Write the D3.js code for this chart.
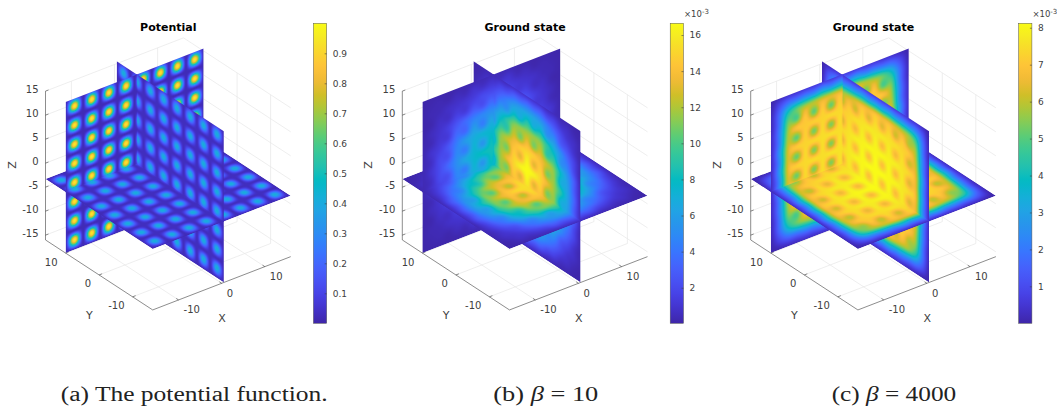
<!DOCTYPE html>
<meta charset="utf-8">
<style>
body { margin: 0; background: #fff; }
text { font-family: "DejaVu Sans", sans-serif; fill: #404040; }
.grid { stroke: #e6e6e6; stroke-width: .7; }
.axis3d { stroke: #404040; stroke-width: .6; }
.caption { font-family: "Liberation Serif", serif; font-size: 20px; fill: #222; }
</style>
<svg width="1057" height="406"></svg>
<script src="https://d3js.org/d3.v7.min.js"></script>
<script>

// tick labels
const xTicks = [-10, 0, 10];
const yTicks = [-10, 0, 10];
const zTicks = [-15, -10, -5, 0, 5, 10, 15];
const barTicksA = [0.1, 0.2, 0.3, 0.4, 0.5, 0.6, 0.7, 0.8, 0.9];
const barTicksB = [2, 4, 6, 8, 10, 12, 14, 16];
const barTicksC = [1, 2, 3, 4, 5, 6, 7, 8];

const parulaStops = ["#3e26a8", "#4332cb", "#4741e5", "#4852f4", "#4563fd", "#3875fe", "#2e87f7", "#2796eb",
  "#20a5e3", "#12b1d6", "#02bac3", "#24c1ae", "#37c897", "#57cc7a", "#81cc59", "#abc739", "#d1bf27", "#f0ba36",
  "#fec338", "#fad62d", "#f5e924", "#f9fb15"];

// slice planes
const sliceX = 0.5, sliceY = 10, sliceZ = -3.3;

// values per slice: one quadrant, rows = |v| and columns = |u| at 0,2,4..16
const potentialX = [
  [.03,.03,.03,.03,.03,.03,.03,.03,.02],
  [.03,.42,.03,.42,.03,.42,.03,.42,.02],
  [.03,.03,.03,.03,.03,.03,.03,.03,.02],
  [.03,.42,.03,.42,.03,.42,.03,.42,.02],
  [.03,.03,.03,.03,.03,.03,.03,.03,.02],
  [.03,.42,.03,.42,.03,.42,.03,.42,.02],
  [.03,.03,.03,.03,.03,.03,.03,.03,.02],
  [.03,.42,.03,.42,.03,.42,.03,.42,.02],
  [.02,.02,.02,.02,.02,.02,.02,.02,.02]];
const potentialY = [
  [.02,.02,.02,.02,.02,.02,.02,.02,.02],
  [.02,.97,.02,.97,.02,.97,.02,.97,.02],
  [.02,.02,.02,.02,.02,.02,.02,.02,.02],
  [.02,.97,.02,.97,.02,.97,.02,.97,.02],
  [.02,.02,.02,.02,.02,.02,.02,.02,.02],
  [.02,.97,.02,.97,.02,.97,.02,.97,.02],
  [.02,.02,.02,.02,.02,.02,.02,.02,.02],
  [.02,.97,.02,.97,.02,.97,.02,.97,.02],
  [.02,.02,.02,.02,.02,.02,.02,.02,.02]];
const potentialZ = [
  [.03,.03,.03,.03,.03,.03,.03,.03,.02],
  [.03,.42,.03,.42,.03,.42,.03,.42,.02],
  [.03,.03,.03,.03,.03,.03,.03,.03,.02],
  [.03,.42,.03,.42,.03,.42,.03,.42,.02],
  [.03,.03,.03,.03,.03,.03,.03,.03,.02],
  [.03,.42,.03,.42,.03,.42,.03,.42,.02],
  [.03,.03,.03,.03,.03,.03,.03,.03,.02],
  [.03,.42,.03,.42,.03,.42,.03,.42,.02],
  [.02,.02,.02,.02,.02,.02,.02,.02,.02]];

const beta10X = [
  [16.6,16.2,15,13.4,11.6,9,6.4,3.4,.5],
  [16.2,13.2,14.6,11,11.4,7.2,6.2,3,.5],
  [15,14.6,13.8,12.4,11,7.9,5.7,3,.4],
  [13.4,11,12.4,9.2,9,5.5,4.5,2,.3],
  [11.6,11.4,11,9,7.2,5.3,3.4,1.7,.3],
  [9,7.2,7.9,5.5,5.3,3,2.1,.9,.2],
  [6.4,6.2,5.7,4.5,3.4,2.1,1.1,.7,.2],
  [3.4,3,3,2,1.7,.9,.7,.3,.1],
  [.5,.5,.4,.3,.3,.2,.2,.1,.05]];
const beta10Y = [
  [8.3,8.1,7.5,6.5,5.2,3.5,2.1,1,.3],
  [8.1,5.5,7.3,4.4,4.8,2.3,2,.7,.3],
  [7.5,7.3,6.8,5.8,4.4,2.6,1.5,.9,.2],
  [6.5,4.4,5.8,3.4,3.5,1.4,1.1,.4,.2],
  [5.2,4.8,4.4,3.5,2.6,1.5,.9,.5,.1],
  [3.5,2.3,2.6,1.4,1.5,.7,.7,.2,.1],
  [2.1,2,1.5,1.1,.9,.7,.4,.3,.1],
  [1,.7,.9,.4,.5,.2,.3,.2,.1],
  [.3,.3,.2,.2,.1,.1,.1,.1,.05]];
const beta10Z = [
  [15.4,15.1,14.2,12.8,11,8.2,5.8,3,.5],
  [15.1,12.2,13.8,10.4,10.8,6.4,5.5,2.6,.5],
  [14.2,13.8,13,11.6,9.6,7,4.8,2.7,.4],
  [12.8,10.4,11.6,8.8,8.1,5,4,1.8,.3],
  [11,10.8,9.6,8.1,6.4,4.5,2.9,1.3,.3],
  [8.2,6.4,7,5,4.5,2.6,1.8,.8,.2],
  [5.8,5.5,4.8,4,2.9,1.8,1,.7,.2],
  [3,2.6,2.7,1.8,1.3,.8,.7,.3,.1],
  [.5,.5,.4,.3,.3,.2,.2,.1,.05]];

const beta4000X = [
  [8.1,8.1,8,7.9,7.7,7.4,6.7,3,.3],
  [8.1,6.9,8,6.8,7.7,6.4,6.5,2.8,.3],
  [8,8,7.9,7.8,7.6,7.3,6.5,3,.3],
  [7.9,6.8,7.8,6.7,7.5,6.2,6.2,2.6,.3],
  [7.7,7.7,7.6,7.5,7.3,7,5.9,2.5,.3],
  [7.4,6.4,7.3,6.2,7,5.9,5.5,2.2,.2],
  [6.7,6.5,6.5,6.2,5.9,5.5,4.4,2,.2],
  [3,2.8,3,2.6,2.5,2.2,2,1.2,.1],
  [.3,.3,.3,.3,.3,.2,.2,.1,.05]];
const beta4000Y = [
  [7.6,7.6,7.5,7.5,7.4,7.2,6.5,2.9,.3],
  [7.6,5.4,7.5,5.4,7.4,5.2,6.3,2.5,.3],
  [7.5,7.5,7.5,7.4,7.3,7.1,6.3,2.8,.3],
  [7.5,5.4,7.4,5.3,7.2,5.1,5.9,2.3,.3],
  [7.4,7.4,7.3,7.2,7.1,6.9,5.7,2.3,.3],
  [7.2,5.2,7.1,5.1,6.9,4.9,5.1,2,.2],
  [6.5,6.3,6.3,5.9,5.7,5.1,4,1.8,.2],
  [2.9,2.5,2.8,2.3,2.3,2,1.8,1,.1],
  [.3,.3,.3,.3,.3,.2,.2,.1,.05]];
const beta4000Z = [
  [8.1,8,8,7.8,7.6,7.3,6.6,3,.3],
  [8,6.7,7.9,6.6,7.6,6.2,6.4,2.7,.3],
  [8,7.9,7.8,7.7,7.5,7.2,6.4,3,.3],
  [7.8,6.6,7.7,6.5,7.4,6,6.1,2.5,.3],
  [7.6,7.6,7.5,7.4,7.2,6.9,5.8,2.4,.3],
  [7.3,6.2,7.2,6,6.9,5.7,5.3,2.1,.2],
  [6.6,6.4,6.4,6.1,5.8,5.3,4.3,1.9,.2],
  [3,2.7,3,2.5,2.4,2.1,1.9,1.1,.1],
  [.3,.3,.3,.3,.3,.2,.2,.1,.05]];

const panels = [
  {dx: 0, title: "Potential", planes: [potentialX, potentialY, potentialZ], domain: [0, 1], ticks: barTicksA},
  {dx: 356.8, title: "Ground state", planes: [beta10X, beta10Y, beta10Z], domain: [0.03, 16.65], ticks: barTicksB, exponent: true},
  {dx: 705.2, title: "Ground state", planes: [beta4000X, beta4000Y, beta4000Z], domain: [0, 8.12], ticks: barTicksC, exponent: true}
];

const svg = d3.select("svg");

// oblique projection, all from the floor corners of the box
const xH = d3.scaleLinear([-16, 16], [-69, 69]),
      xV = d3.scaleLinear([-16, 16], [26.65, -26.65]),
      yH = d3.scaleLinear([-16, 16], [53.6, -53.6]),
      yV = d3.scaleLinear([-16, 16], [35, -35]),
      zV = d3.scaleLinear([-16, 15], [0, -148.8]);
const project = (x, y, z) => [168.1 + xH(x) + yH(y), 248.3 + xV(x) + yV(y) + zV(z)];

const zTop = 15.5;
const colorRamp = d3.piecewise(d3.interpolateRgb, parulaStops);

function catmull(a, b, c, d, t) {
  return 0.5 * (2*b + (c-a)*t + (2*a-5*b+4*c-d)*t*t + (3*b-a-3*c+d)*t*t*t);
}

// quadrant -> 17x17 -> smoothed png, the slices are shaded interp in the original
function planeImage(quadrant, color) {
  const idx = [8,7,6,5,4,3,2,1,0,1,2,3,4,5,6,7,8];
  const full = idx.map(i => idx.map(j => quadrant[i][j]));
  const k = 10, n = 16 * k + 1;
  const canvas = document.createElement("canvas");
  canvas.width = n; canvas.height = n;
  const ctx = canvas.getContext("2d");
  const at = (r, c) => full[Math.max(0, Math.min(16, r))][Math.max(0, Math.min(16, c))];
  for (let py = 0; py < n; py++) {
    const r = Math.min(15, Math.floor(py / k)), tr = py / k - r;
    for (let px = 0; px < n; px++) {
      const c = Math.min(15, Math.floor(px / k)), tc = px / k - c;
      const row = [-1, 0, 1, 2].map(o => catmull(at(r+o, c-1), at(r+o, c), at(r+o, c+1), at(r+o, c+2), tc));
      ctx.fillStyle = color(catmull(row[0], row[1], row[2], row[3], tr));
      ctx.fillRect(px, py, 1, 1);
    }
  }
  return canvas.toDataURL();
}

panels.forEach(function(panel, pi) {
  const g = svg.append("g").attr("transform", "translate(" + panel.dx + ",0)");
  const color = d3.scaleSequential(colorRamp).domain(panel.domain).clamp(true);

  const line = (a, b, cls) => g.append("line").attr("class", cls)
      .attr("x1", a[0]).attr("y1", a[1]).attr("x2", b[0]).attr("y2", b[1]);

  // back walls and floor
  xTicks.forEach(x => {
    line(project(x, -16, -16), project(x, 16, -16), "grid");
    line(project(x, 16, -16), project(x, 16, 15), "grid");
  });
  yTicks.forEach(y => {
    line(project(-16, y, -16), project(16, y, -16), "grid");
    line(project(16, y, -16), project(16, y, 15), "grid");
  });
  zTicks.forEach(z => {
    line(project(16, -16, z), project(16, 16, z), "grid");
    line(project(16, 16, z), project(-16, 16, z), "grid");
  });

  // axes
  line(project(-16, 16, -16), project(-16, 16, 15), "axis3d");
  line(project(-16, 16, -16), project(-16, -16, -16), "axis3d");
  line(project(-16, -16, -16), project(16, -16, -16), "axis3d");

  zTicks.forEach(z => {
    const p = project(-16, 16, z);
    line(p, project(-15.3, 16, z), "axis3d");
    g.append("text").attr("x", p[0] - 7).attr("y", p[1] - 1.5).attr("dy", ".35em")
      .attr("text-anchor", "end").style("font-size", "10px").text(z);
  });
  yTicks.forEach(y => {
    const p = project(-16, y, -16);
    line(p, project(-15.3, y, -16), "axis3d");
    g.append("text").attr("x", p[0] - 8).attr("y", p[1] + 9).attr("dy", ".35em")
      .attr("text-anchor", "end").style("font-size", "10px").text(y);
  });
  xTicks.forEach(x => {
    const p = project(x, -16, -16);
    line(p, project(x, -15.3, -16), "axis3d");
    g.append("text").attr("x", p[0] + 5).attr("y", p[1] + 10).attr("dy", ".35em")
      .style("font-size", "10px").text(x);
  });

  g.append("text").attr("x", 222).attr("y", 318).attr("dy", ".35em").attr("text-anchor", "middle")
    .style("font-size", "11px").text("X");
  g.append("text").attr("x", 89.3).attr("y", 315).attr("dy", ".35em").attr("text-anchor", "middle")
    .style("font-size", "11px").text("Y");
  g.append("text").attr("transform", "translate(11.7,165) rotate(-90)").attr("dy", ".35em").attr("text-anchor", "middle")
    .style("font-size", "11px").text("Z");
  g.append("text").attr("x", 168.3).attr("y", 26.7).attr("dy", ".35em").attr("text-anchor", "middle")
    .style("font-size", "11px").style("font-weight", "bold").style("fill", "#000").text(panel.title);

  // slices, u/v corners of each image in data space
  const hrefs = panel.planes.map(q => planeImage(q, color));
  const frames = [
    {o: project(sliceX, 16, 16), u: project(sliceX, -16, 16), v: project(sliceX, 16, -16)},
    {o: project(-16, sliceY, 16), u: project(16, sliceY, 16), v: project(-16, sliceY, -16)},
    {o: project(-16, 16, sliceZ), u: project(16, 16, sliceZ), v: project(-16, -16, sliceZ)}
  ];
  // a little overlap at the cuts so no seam shows between the pieces
  const lap = 0.15;
  const xr = s => s > 0 ? [sliceX - lap, 16] : [-16, sliceX + lap],
        yr = s => s > 0 ? [sliceY - lap, 16] : [-16, sliceY + lap],
        zr = s => s > 0 ? [sliceZ - lap, zTop] : [-16, sliceZ + lap];

  const piece = function(which, corners, id) {
    const f = frames[which];
    g.append("clipPath").attr("id", id).append("polygon")
      .attr("points", corners.map(p => p.join(",")).join(" "));
    g.append("g").attr("clip-path", "url(#" + id + ")").append("image")
      .attr("href", hrefs[which]).attr("width", 1).attr("height", 1)
      .attr("preserveAspectRatio", "none")
      .attr("transform", "matrix(" + [f.u[0]-f.o[0], f.u[1]-f.o[1], f.v[0]-f.o[0], f.v[1]-f.o[1], f.o[0], f.o[1]].join(",") + ")");
  };

  // far octant first, each wall goes in with the octant on the viewer's side of it
  let n = 0;
  [1, -1].forEach(sx => [1, -1].forEach(sy => [-1, 1].forEach(sz => {
    const X = xr(sx), Y = yr(sy), Z = zr(sz);
    if (sx < 0) piece(0, [project(sliceX, Y[0], Z[0]), project(sliceX, Y[1], Z[0]), project(sliceX, Y[1], Z[1]), project(sliceX, Y[0], Z[1])], "c" + pi + "_" + n++);
    if (sy < 0) piece(1, [project(X[0], sliceY, Z[0]), project(X[1], sliceY, Z[0]), project(X[1], sliceY, Z[1]), project(X[0], sliceY, Z[1])], "c" + pi + "_" + n++);
    if (sz > 0) piece(2, [project(X[0], Y[0], sliceZ), project(X[1], Y[0], sliceZ), project(X[1], Y[1], sliceZ), project(X[0], Y[1], sliceZ)], "c" + pi + "_" + n++);
  })));

  // colorbar
  const barX = 313.4, barW = 13.3, barTop = 23.3, barBottom = 323.3;
  const barY = d3.scaleLinear(panel.domain, [barBottom, barTop]);
  const grad = g.append("linearGradient").attr("id", "bar" + pi)
    .attr("x1", 0).attr("y1", 1).attr("x2", 0).attr("y2", 0);
  d3.range(0, 1.001, 0.02).forEach(t => grad.append("stop").attr("offset", t).attr("stop-color", colorRamp(t)));
  g.append("rect").attr("x", barX).attr("y", barTop).attr("width", barW).attr("height", barBottom - barTop)
    .attr("fill", "url(#bar" + pi + ")").attr("stroke", "#555").attr("stroke-width", .5);
  const axis = g.append("g").attr("transform", "translate(" + (barX + barW) + ",0)")
    .call(d3.axisRight(barY).tickValues(panel.ticks).tickSize(-2).tickPadding(6).tickFormat(d => d));
  axis.select(".domain").remove();
  axis.selectAll("line").attr("stroke", "#404040").attr("stroke-width", .6);
  axis.selectAll("text").style("font-size", "9px").style("font-family", null);
  if (panel.exponent) {
    const t = g.append("text").attr("x", barX + barW + 0.5).attr("y", 17).style("font-size", "8.5px");
    t.append("tspan").text("\u00d710");
    t.append("tspan").attr("dy", -3).style("font-size", "7px").text("-3");
  }
});

// captions
const captions = [
  {x: 60.7, len: 267, head: "(a) The potential function."},
  {x: 493.3, len: 105, head: "(b) ", beta: " = 10"},
  {x: 831.7, len: 124.5, head: "(c) ", beta: " = 4000"}
];
captions.forEach(c => {
  const t = svg.append("text").attr("class", "caption").attr("x", c.x).attr("y", 401)
    .attr("textLength", c.len).attr("lengthAdjust", "spacingAndGlyphs");
  t.append("tspan").text(c.head);
  if (c.beta) {
    t.append("tspan").style("font-style", "italic").text("\u03b2");
    t.append("tspan").text(c.beta);
  }
});

</script>
